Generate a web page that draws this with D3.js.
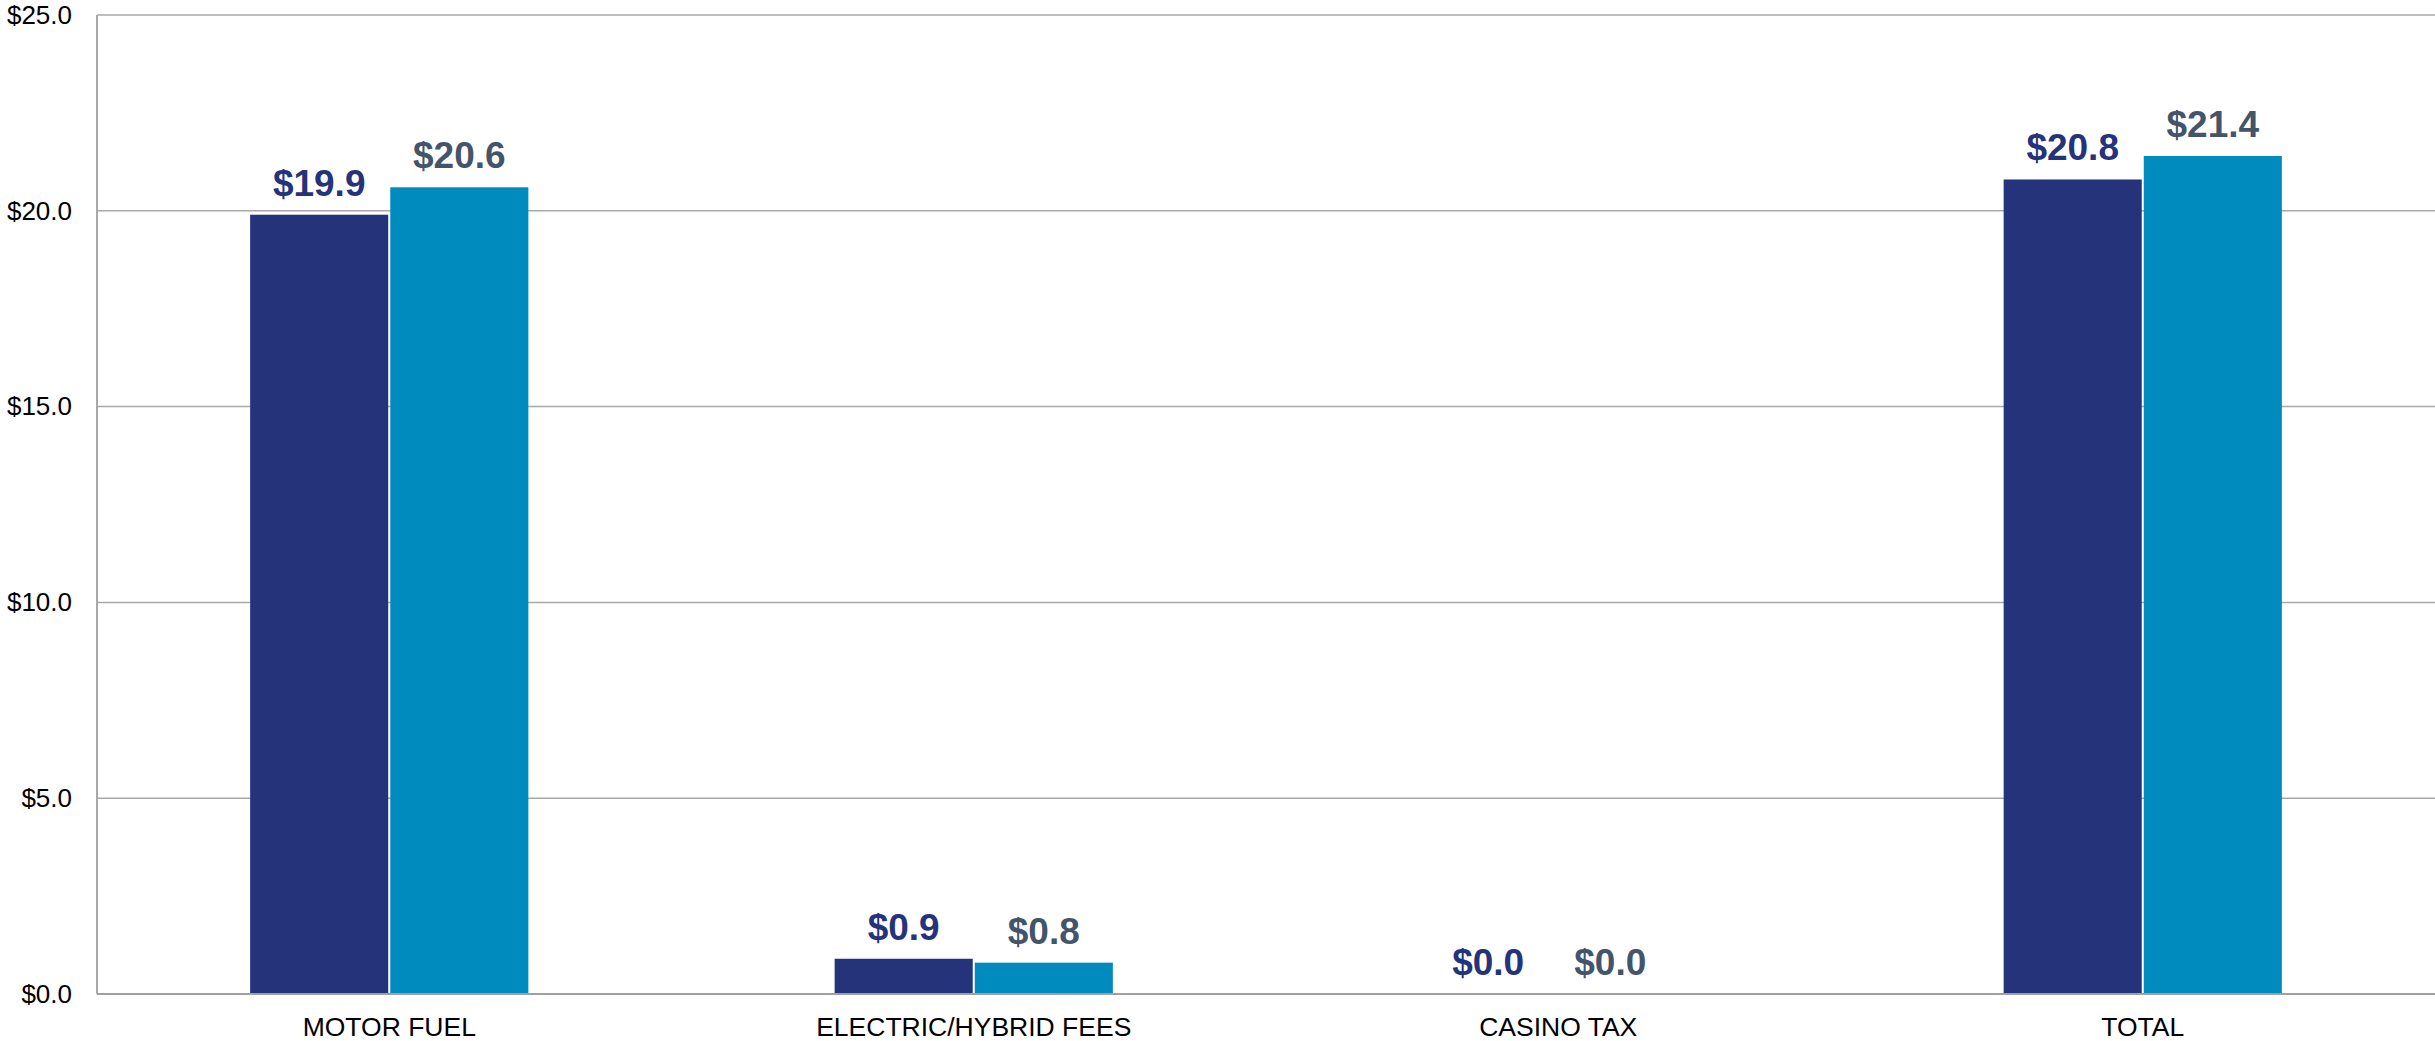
<!DOCTYPE html>
<html><head><meta charset="utf-8">
<script src="https://cdn.jsdelivr.net/npm/d3@7"></script>
<style>html,body{margin:0;padding:0;background:#fff;}svg{display:block;}</style>
</head><body>
<svg id="chart" width="2435" height="1041"></svg>
<script>
const categories = ["MOTOR FUEL", "ELECTRIC/HYBRID FEES", "CASINO TAX", "TOTAL"];
const seriesNames = ["Series A", "Series B"];
const seriesA = [19.9, 0.9, 0.0, 20.8];
const seriesB = [20.6, 0.8, 0.0, 21.4];
const yTicks = [0, 5, 10, 15, 20, 25];

const W = 2435, H = 1041;
const m = {left: 97, right: 0, top: 15, bottom: 47};
const svg = d3.select("#chart");
const x0 = d3.scaleBand().domain(categories).range([m.left, W - m.right]).paddingInner(0).paddingOuter(0);
const y = d3.scaleLinear().domain([0, 25]).range([H - m.bottom, m.top]);
const groupW = x0.bandwidth() * 0.476;
const x1 = d3.scaleBand().domain(seriesNames).range([0, groupW]).paddingInner(0.0145);

const colors = ["#25347a", "#008bbe"];
const labelColors = ["#25347a", "#44546a"];
const font = "Liberation Sans, Arial, sans-serif";

// gridlines
svg.append("g").selectAll("line").data(yTicks.filter(d => d > 0)).join("line")
  .attr("x1", m.left).attr("x2", W - m.right)
  .attr("y1", d => y(d)).attr("y2", d => y(d))
  .attr("stroke", "#a9a9a9").attr("stroke-width", 1.5);

// y axis
const yAxis = d3.axisLeft(y).tickValues(yTicks).tickSize(0).tickPadding(25).tickFormat(d => "$" + d3.format(".1f")(d));
const ya = svg.append("g").attr("transform", `translate(${m.left},0)`).call(yAxis);
ya.select(".domain").remove();
ya.selectAll("text").attr("font-family", font).attr("font-size", 26).attr("fill", "#000");

const data = categories.map((c, i) => ({cat: c, vals: [seriesA[i], seriesB[i]]}));
const groups = svg.append("g").selectAll("g").data(data).join("g")
  .attr("transform", d => `translate(${x0(d.cat) + (x0.bandwidth() - groupW) / 2},0)`);

groups.selectAll("rect").data(d => d.vals.map((v, j) => ({v, s: seriesNames[j], j}))).join("rect")
  .attr("x", d => x1(d.s)).attr("width", x1.bandwidth())
  .attr("y", d => y(d.v)).attr("height", d => y(0) - y(d.v))
  .attr("fill", d => colors[d.j]);

groups.selectAll("text").data(d => d.vals.map((v, j) => ({v, s: seriesNames[j], j, both0: d.vals.every(q => q === 0)}))).join("text")
  .attr("x", d => x1(d.s) + x1.bandwidth() / 2 + (d.both0 && d.j === 1 ? -18 : 0))
  .attr("y", d => y(d.v) - 19)
  .attr("text-anchor", "middle")
  .attr("font-family", font).attr("font-weight", "bold")
  .attr("font-size", 37).attr("fill", d => labelColors[d.j])
  .text(d => "$" + d3.format(".1f")(d.v));

// axes lines
svg.append("line").attr("x1", m.left).attr("x2", m.left).attr("y1", m.top).attr("y2", y(0))
  .attr("stroke", "#a9a9a9").attr("stroke-width", 2);
svg.append("line").attr("x1", m.left).attr("x2", W).attr("y1", y(0)).attr("y2", y(0))
  .attr("stroke", "#a0a0a0").attr("stroke-width", 2);

// x axis labels
const xAxis = d3.axisBottom(x0).tickSize(0).tickPadding(23);
const xa = svg.append("g").attr("transform", `translate(0,${y(0)})`).call(xAxis);
xa.select(".domain").remove();
xa.selectAll("text").attr("font-family", font).attr("font-size", 26.5).attr("fill", "#000");
</script>
</body></html>
